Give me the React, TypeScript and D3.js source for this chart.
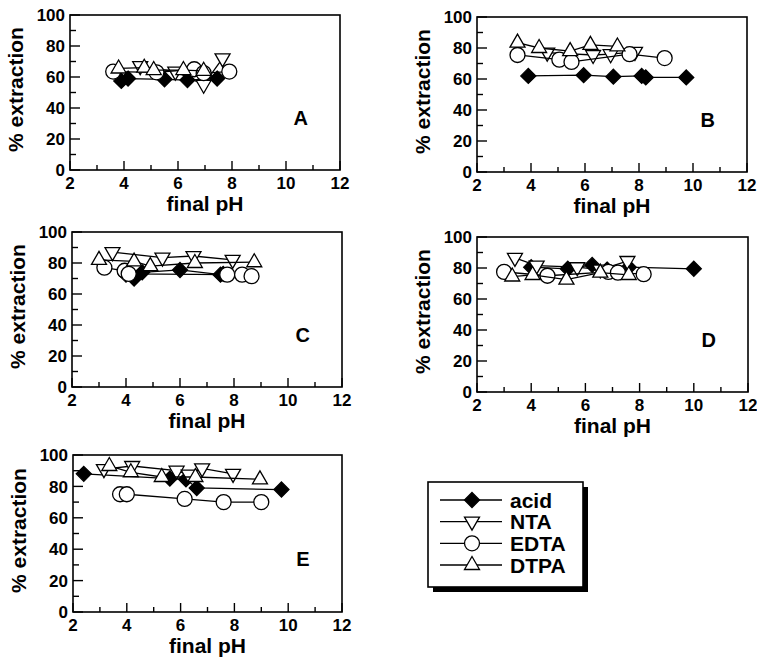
import React from "react";
import * as d3 from "d3";

type Pt = [number, number]; // [final pH, % extraction]

// panel A
const acidA: Pt[] = [[3.9, 57.5], [4.15, 59], [5.5, 58.5], [6.35, 58], [7.45, 59]];
const ntaA: Pt[] = [[4.6, 67], [5.9, 63.5], [6.95, 55], [7.65, 72]];
const edtaA: Pt[] = [[3.6, 63.5], [5.2, 63], [6.6, 65], [6.95, 62.5], [7.9, 63.5]];
const dtpaA: Pt[] = [[3.8, 65.5], [4.75, 66], [5.1, 64.5], [6.2, 64.5], [6.95, 64]];

// panel B
const acidB: Pt[] = [[3.9, 62], [5.95, 62.5], [7.05, 61.5], [8.1, 62], [8.25, 61], [9.75, 61]];
const ntaB: Pt[] = [[4.6, 77], [6.3, 75.5], [6.95, 76], [7.85, 77.5]];
const edtaB: Pt[] = [[3.5, 75.5], [5.05, 72.5], [5.5, 71], [7.65, 76], [8.95, 73.5]];
const dtpaB: Pt[] = [[3.5, 83.5], [4.3, 80], [5.45, 78], [6.2, 82], [7.2, 81]];

// panel C
const acidC: Pt[] = [[4.0, 72.5], [4.3, 70], [4.6, 74], [6.0, 75.5], [7.5, 72.5], [7.6, 73]];
const ntaC: Pt[] = [[3.5, 87], [5.35, 83.5], [6.5, 84.5], [7.95, 82]];
const edtaC: Pt[] = [[3.2, 77], [3.95, 75], [4.1, 73], [7.75, 72.5], [8.3, 72.5], [8.65, 71.5]];
const dtpaC: Pt[] = [[3.0, 82], [4.3, 81], [4.9, 78], [6.55, 80], [8.75, 80.5]];

// panel D
const acidD: Pt[] = [[4.0, 80.5], [5.35, 79.5], [6.25, 82], [6.8, 79], [7.6, 80.5], [10.0, 79.5]];
const ntaD: Pt[] = [[3.4, 86.5], [4.2, 81.5], [5.7, 80.5], [6.55, 79], [7.55, 84.5]];
const edtaD: Pt[] = [[3.0, 77.5], [4.6, 75], [6.85, 77.5], [7.2, 77], [8.15, 76]];
const dtpaD: Pt[] = [[3.3, 74.5], [4.05, 75.5], [5.3, 72.5], [6.55, 77], [7.6, 75.5]];

// panel E
const acidE: Pt[] = [[2.4, 88], [5.6, 85], [6.2, 84.5], [6.6, 79], [9.75, 78]];
const ntaE: Pt[] = [[3.15, 91], [4.2, 93], [5.85, 90], [6.3, 87.5], [6.8, 91.5], [7.95, 88]];
const edtaE: Pt[] = [[3.75, 75], [4.0, 75], [6.15, 72], [7.6, 70], [9.0, 70]];
const dtpaE: Pt[] = [[3.35, 93], [4.15, 89], [5.3, 86], [6.55, 86], [8.95, 84.5]];

const seriesNames = ["acid", "NTA", "EDTA", "DTPA"];
const xDomain: [number, number] = [2, 12];
const yDomain: [number, number] = [0, 100];
const xLabels = [2, 4, 6, 8, 10, 12];
const yLabels = [0, 20, 40, 60, 80, 100];

const FONT = "'Liberation Sans', Arial, Helvetica, sans-serif";

const panels = [
  { name: "A", left: 70, top: 15, w: 270, h: 155, data: [acidA, ntaA, edtaA, dtpaA] },
  { name: "B", left: 477, top: 17, w: 270, h: 155, data: [acidB, ntaB, edtaB, dtpaB] },
  { name: "C", left: 72, top: 232, w: 270, h: 155, data: [acidC, ntaC, edtaC, dtpaC] },
  { name: "D", left: 477, top: 237, w: 271, h: 155, data: [acidD, ntaD, edtaD, dtpaD] },
  { name: "E", left: 73, top: 455, w: 269, h: 157, data: [acidE, ntaE, edtaE, dtpaE] },
];

// marker shapes, drawn around (0,0)
const markerPath = [
  "M0,-7.5L7.5,0L0,7.5L-7.5,0Z", // diamond
  "M0,8.5L7.5,-4.5L-7.5,-4.5Z", // down triangle
  "", // circle
  "M0,-8.5L7.5,4.5L-7.5,4.5Z", // up triangle
];

const Marker = ({ i, x, y }: { i: number; x: number; y: number }) => {
  const fill = i === 0 ? "#000" : "#fff";
  if (i === 2) {
    return <circle cx={x} cy={y} r={7.5} fill={fill} stroke="#000" strokeWidth={1.3} />;
  }
  return (
    <path d={markerPath[i]} transform={`translate(${x},${y})`} fill={fill} stroke="#000" strokeWidth={1.3} strokeLinejoin="miter" />
  );
};

const Panel = ({ p }: { p: (typeof panels)[number] }) => {
  const x = d3.scaleLinear().domain(xDomain).range([p.left, p.left + p.w]);
  const y = d3.scaleLinear().domain(yDomain).range([p.top + p.h, p.top]);
  const line = d3
    .line<Pt>()
    .x((d) => x(d[0]))
    .y((d) => y(d[1]));
  const bottom = p.top + p.h;

  return (
    <g>
      <rect x={p.left} y={p.top} width={p.w} height={p.h} fill="none" stroke="#000" strokeWidth={1.6} />
      {/* x ticks, inside */}
      {x.ticks(10).map((t) => (
        <line key={"xt" + t} x1={x(t)} x2={x(t)} y1={bottom} y2={bottom - (t % 2 === 0 ? 9 : 5)} stroke="#000" strokeWidth={1.4} />
      ))}
      {xLabels.map((t) => (
        <text key={"xl" + t} x={x(t)} y={bottom + 19} textAnchor="middle" fontSize={17} fontWeight="bold" fontFamily={FONT}>
          {t}
        </text>
      ))}
      {/* y ticks, inside */}
      {y.ticks(10).map((t) => (
        <line key={"yt" + t} x1={p.left} x2={p.left + (t % 20 === 0 ? 10 : 6)} y1={y(t)} y2={y(t)} stroke="#000" strokeWidth={1.4} />
      ))}
      {yLabels.map((t) => (
        <text key={"yl" + t} x={p.left - 5} y={y(t)} dy="0.36em" textAnchor="end" fontSize={17} fontWeight="bold" fontFamily={FONT}>
          {t}
        </text>
      ))}
      <text x={p.left + p.w / 2} y={bottom + 41} textAnchor="middle" fontSize={21} fontWeight="bold" fontFamily={FONT}>
        final pH
      </text>
      <text
        transform={`translate(${p.left - 55},${p.top + p.h / 2 - 3}) rotate(-90)`}
        textAnchor="middle"
        dy="0.36em"
        fontSize={21}
        fontWeight="bold"
        fontFamily={FONT}
      >
        % extraction
      </text>
      <text x={x(10.55)} y={y(34)} dy="0.36em" textAnchor="middle" fontSize={20} fontWeight="bold" fontFamily={FONT}>
        {p.name}
      </text>
      {p.data.map((s, i) => {
        const sorted = [...s].sort((a, b) => a[0] - b[0]);
        return (
          <g key={"s" + i}>
            <path d={line(sorted) || ""} fill="none" stroke="#000" strokeWidth={1.3} />
            {sorted.map((d, j) => (
              <Marker key={j} i={i} x={x(d[0])} y={y(d[1])} />
            ))}
          </g>
        );
      })}
    </g>
  );
};

const Legend = () => {
  const lx = 428;
  const ly = 482;
  const lw = 155;
  const lh = 105;
  const row = d3.scalePoint<string>().domain(seriesNames).range([ly + 18, ly + 83]);
  return (
    <g>
      <rect x={lx + 5} y={ly + 5} width={lw} height={lh} fill="#000" />
      <rect x={lx} y={ly} width={lw} height={lh} fill="#fff" stroke="#000" strokeWidth={1.6} />
      {seriesNames.map((n, i) => {
        const yy = row(n) as number;
        return (
          <g key={n}>
            <line x1={lx + 12} x2={lx + 74} y1={yy} y2={yy} stroke="#000" strokeWidth={1.3} />
            <Marker i={i} x={lx + 44} y={yy} />
            <text x={lx + 82} y={yy} dy="0.36em" fontSize={21} fontWeight="bold" fontFamily={FONT}>
              {n}
            </text>
          </g>
        );
      })}
    </g>
  );
};

export default function App() {
  return (
    <svg
      width={757}
      height={661}
      style={{ position: "absolute", left: 0, top: 0, background: "#fff" }}
    >
      {panels.map((p) => (
        <Panel key={p.name} p={p} />
      ))}
      <Legend />
    </svg>
  );
}
